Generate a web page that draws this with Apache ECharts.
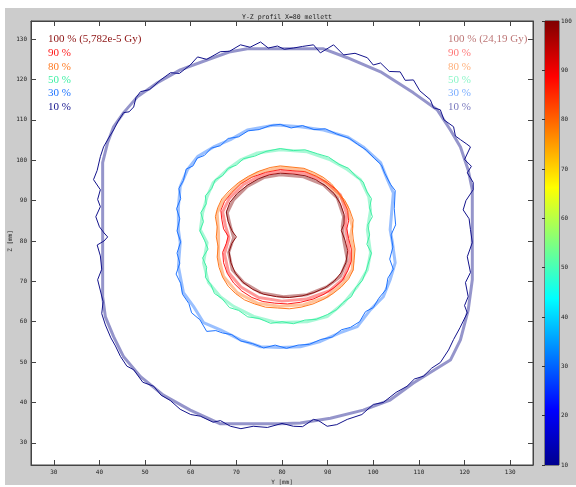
<!DOCTYPE html>
<html>
<head>
<meta charset="utf-8">
<script src="https://cdn.jsdelivr.net/npm/echarts@6/dist/echarts.min.js"></script>
<style>
  html, body { margin: 0; padding: 0; background: #fff; }
  #chart { width: 576px; height: 487px; }
</style>
</head>
<body>
<div id="chart"></div>
<script>
// isodose contours, [Y, Z] in mm
// "a" = the smooth faded trace, "b" = the thin jagged trace
const dose10a = [[72.4,127.6],[79.6,127.6],[89.1,127.6],[94.3,125.4],[101.6,121.9],[108.8,116.7],[114.0,112.5],[116.9,107.5],[119.1,103.3],[120.8,97.6],[121.7,92.7],[121.7,87.7],[121.7,77.8],[121.7,70.4],[120.8,62.9],[119.1,55.5],[116.9,50.5],[112.3,47.3],[108.8,44.8],[103.7,40.6],[97.8,38.1],[90.6,36.1],[84.0,34.9],[79.6,34.7],[66.5,34.7],[59.9,38.1],[54.0,41.8],[49.0,46.4],[45.3,51.3],[43.1,56.3],[41.3,61.2],[40.7,66.2],[40.7,74.6],[40.7,82.8],[40.7,99.4],[41.8,104.4],[43.1,108.3],[45.3,111.8],[48.3,115.7],[52.7,119.2],[57.7,122.4],[63.7,124.9],[68.7,126.9],[72.4,127.6]];
const dose10b = [[82.5,127.8],[84.5,128.2],[86.9,128.6],[88.4,126.6],[91.3,128.6],[93.5,126.1],[96.0,126.5],[98.7,125.4],[100.0,123.6],[101.6,124.1],[103.5,122.0],[105.9,121.9],[107.0,119.8],[108.8,119.9],[110.2,117.2],[112.5,115.0],[113.2,113.0],[114.7,112.5],[115.5,110.0],[117.6,108.3],[118.0,106.0],[119.1,105.1],[120.5,104.0],[121.3,103.3],[120.0,100.2],[121.5,98.5],[120.6,96.9],[121.9,94.5],[121.9,92.7],[120.3,90.0],[119.7,87.7],[121.0,85.5],[121.3,82.8],[121.7,79.6],[120.6,76.1],[121.3,72.2],[120.2,69.7],[120.8,66.2],[120.0,64.0],[120.6,62.2],[119.0,58.5],[117.6,55.6],[116.5,53.0],[114.7,49.9],[112.8,48.5],[111.0,46.5],[109.0,45.8],[107.4,44.0],[105.0,42.5],[102.2,40.0],[100.0,39.5],[97.5,37.0],[94.3,35.8],[92.0,34.5],[89.9,34.1],[88.0,35.5],[86.9,35.8],[84.5,34.0],[82.5,34.1],[80.0,34.8],[76.8,33.8],[73.7,34.1],[71.0,33.5],[68.7,34.1],[66.5,35.5],[64.9,35.1],[62.1,36.6],[60.0,37.0],[57.7,38.3],[55.5,40.5],[53.5,41.8],[51.9,44.0],[49.5,45.0],[47.5,48.1],[46.0,49.0],[44.6,51.4],[43.5,54.0],[42.5,56.0],[41.3,59.2],[40.5,62.0],[40.8,65.0],[39.6,70.4],[40.5,73.0],[40.2,76.3],[39.5,79.0],[41.0,80.0],[41.8,81.0],[41.0,82.0],[40.0,83.5],[39.2,86.0],[40.2,88.5],[39.6,90.3],[40.2,92.7],[38.7,95.2],[39.5,97.5],[40.2,100.9],[40.9,103.3],[42.0,105.5],[43.1,107.5],[44.0,109.5],[45.3,111.8],[46.5,112.0],[47.5,113.2],[48.0,115.5],[49.0,117.0],[51.0,117.5],[53.4,119.9],[55.6,121.7],[57.5,121.5],[59.9,123.6],[61.5,125.6],[63.5,125.0],[66.5,126.9],[68.5,127.0],[70.9,128.6],[73.0,128.0],[75.3,129.3],[77.0,127.8],[79.0,128.3],[80.5,127.5],[82.5,127.8]];
const dose10islands = [[38.1,89.7],[39.2,87.0],[38.1,66.2],[43.1,62.2],[42.0,54.3],[53.1,46.2],[54.0,40.2],[65.0,36.2],[70.2,32.5],[83.3,32.5],[89.1,32.8],[103.1,38.1],[119.1,77.8],[119.7,67.5],[97.2,128.1],[100.1,121.9],[110.4,115.0],[116.9,105.8],[119.5,100.9],[120.2,97.7],[65.0,126.9],[74.8,124.9],[81.2,129.8]];

const dose30a = [[79.6,108.7],[84.0,108.3],[89.1,107.5],[94.3,105.8],[97.8,103.3],[101.6,99.4],[103.1,95.2],[104.4,91.9],[103.7,82.8],[104.2,79.6],[104.8,74.6],[103.7,70.4],[102.2,66.2],[99.4,63.0],[96.5,58.8],[92.8,57.3],[88.4,55.1],[84.0,53.8],[79.6,53.6],[75.3,53.8],[70.9,55.5],[66.5,58.0],[62.8,59.8],[60.6,63.8],[58.4,67.2],[57.3,73.7],[57.7,79.6],[57.3,82.8],[57.3,88.5],[57.7,93.5],[59.3,97.7],[61.5,100.9],[65.0,103.3],[68.7,105.1],[72.4,107.5],[78.2,108.7],[79.6,108.7]];
const dose30b = [[79.6,108.9],[82.0,108.0],[84.5,108.6],[87.0,107.6],[89.5,107.8],[92.0,106.5],[94.8,105.4],[96.5,104.0],[98.5,102.5],[100.2,100.5],[101.8,98.8],[102.5,96.8],[103.8,94.0],[104.8,92.5],[104.6,88.0],[104.9,84.0],[103.9,81.5],[104.3,78.5],[103.6,75.5],[104.4,73.0],[103.2,70.8],[102.8,68.0],[101.2,65.8],[100.0,63.5],[98.3,62.5],[97.0,60.0],[95.0,58.6],[93.0,58.0],[91.0,56.2],[88.5,55.6],[86.0,54.4],[83.5,54.2],[81.0,53.4],[78.5,54.2],[76.0,53.5],[73.5,54.6],[71.0,55.2],[69.0,56.8],[67.0,57.2],[65.5,57.8],[63.5,57.6],[62.0,60.5],[60.2,62.2],[59.6,64.5],[58.2,66.8],[57.8,69.5],[56.8,71.8],[57.6,74.5],[57.0,77.0],[57.8,79.8],[57.0,82.5],[57.6,85.5],[56.9,88.0],[57.8,90.5],[57.4,93.0],[58.4,95.0],[59.0,97.8],[60.5,98.6],[61.4,100.5],[63.0,101.2],[64.5,103.0],[66.5,103.6],[68.2,105.4],[70.5,105.8],[72.6,107.3],[75.0,107.6],[77.4,108.6],[79.6,108.9]];

const dose50a = [[79.6,102.6],[85.5,102.1],[90.6,100.1],[94.3,97.7],[97.2,95.2],[99.0,91.0],[99.4,87.7],[98.7,82.8],[99.4,77.1],[98.7,72.9],[96.5,68.7],[93.5,64.6],[89.9,61.3],[85.5,60.0],[79.6,59.8],[78.2,60.0],[73.8,61.3],[69.4,63.8],[66.5,66.2],[63.9,69.7],[62.8,74.6],[63.6,79.6],[62.1,82.8],[62.6,87.0],[63.6,91.0],[64.9,94.4],[68.0,97.7],[70.9,100.1],[74.6,101.8],[79.6,102.6]];
const dose50b = [[79.6,102.9],[82.5,102.4],[85.0,102.6],[87.8,101.6],[90.2,100.8],[92.5,99.0],[94.6,98.0],[96.2,96.0],[97.8,94.6],[98.6,92.2],[99.6,90.5],[99.2,88.2],[99.8,86.0],[98.8,84.0],[99.2,81.5],[98.6,79.2],[99.6,77.0],[99.0,74.8],[98.4,72.5],[97.6,70.2],[96.2,68.5],[95.2,66.2],[93.4,64.8],[92.0,63.0],[90.0,61.8],[87.5,60.6],[85.0,60.4],[82.5,59.5],[80.0,60.0],[77.5,59.6],[75.0,60.8],[72.5,61.2],[70.5,62.8],[68.5,63.5],[66.8,65.8],[65.2,67.0],[64.4,69.2],[63.2,71.0],[63.5,73.5],[62.6,75.8],[63.8,78.0],[63.0,80.2],[62.0,82.5],[62.8,84.8],[62.2,87.0],[63.4,89.2],[63.2,91.2],[64.6,93.0],[65.4,95.2],[67.0,96.2],[68.2,98.0],[70.0,98.8],[71.6,100.4],[74.0,101.0],[76.5,102.2],[79.6,102.9]];

const dose80a = [[79.6,98.2],[84.7,97.6],[88.4,95.7],[90.6,93.5],[92.8,91.0],[94.3,88.5],[95.4,83.6],[95.0,81.1],[95.6,77.8],[95.4,72.9],[93.5,69.7],[89.9,66.2],[84.7,64.2],[79.6,63.8],[74.6,64.6],[70.2,67.2],[67.2,71.2],[66.1,76.1],[66.1,82.0],[65.8,87.0],[67.2,90.2],[70.9,94.4],[74.6,96.9],[79.6,98.2]];
const dose80b = [[79.6,98.6],[82.2,98.3],[84.8,98.0],[87.0,97.0],[89.0,95.8],[90.8,94.2],[92.4,92.0],[93.8,90.0],[94.8,87.8],[95.6,85.2],[95.4,83.0],[95.6,80.5],[96.0,78.0],[95.8,75.2],[95.6,72.8],[94.6,70.6],[93.0,68.6],[91.2,67.0],[89.2,65.6],[86.8,64.4],[84.2,63.6],[81.6,63.2],[79.0,63.4],[76.4,63.6],[74.0,64.4],[71.8,65.4],[69.8,67.0],[68.2,68.8],[67.0,71.0],[66.2,73.5],[65.8,76.0],[66.0,78.6],[65.6,81.0],[65.8,83.5],[65.4,86.0],[65.9,88.2],[66.8,90.4],[68.4,92.4],[70.4,94.4],[72.6,96.0],[75.0,97.3],[77.4,98.2],[79.6,98.6]];

const dose90a = [[79.6,97.3],[84.8,96.8],[89.6,94.6],[92.8,91.4],[94.2,86.6],[93.9,83.6],[94.3,80.5],[95.0,75.4],[93.4,70.6],[90.3,67.6],[85.3,65.6],[80.0,65.1],[74.9,66.0],[71.0,68.6],[68.3,72.2],[67.4,76.8],[68.4,80.8],[67.6,83.8],[67.0,87.2],[68.5,90.6],[71.6,94.0],[75.5,96.3],[79.6,97.3]];
const dose90b = [[79.6,97.7],[82.4,97.4],[85.0,97.2],[87.6,96.0],[90.0,94.4],[92.0,92.6],[93.4,90.2],[94.4,87.6],[94.6,85.0],[94.2,83.0],[94.6,80.6],[95.2,78.0],[95.2,75.0],[94.4,72.6],[93.2,70.2],[91.4,68.4],[89.2,66.8],[86.8,65.6],[84.0,64.8],[81.2,64.4],[78.4,64.6],[75.8,65.0],[73.4,66.0],[71.2,67.6],[69.4,69.6],[68.0,72.0],[67.2,74.6],[67.0,77.2],[67.8,79.4],[68.2,81.2],[67.2,83.0],[66.8,85.4],[66.6,87.6],[67.4,89.8],[69.0,92.0],[71.0,94.2],[73.4,95.8],[76.4,97.0],[79.6,97.7]];

const dose100a = [[79.6,96.4],[84.7,95.9],[89.1,93.9],[92.1,90.7],[93.5,86.0],[93.2,83.6],[93.5,80.3],[94.3,75.4],[92.8,71.2],[89.9,68.7],[85.5,66.7],[80.3,66.2],[75.3,67.2],[71.6,69.7],[69.1,72.9],[68.3,77.1],[69.4,80.8],[68.7,83.6],[68.0,87.0],[69.4,90.2],[72.4,93.5],[76.0,95.7],[79.6,96.4]];
const dose100b = [[79.6,96.8],[82.4,96.6],[85.0,96.2],[87.4,95.2],[89.6,93.6],[91.4,91.8],[92.8,89.2],[93.6,86.6],[93.6,84.2],[93.0,82.6],[93.8,80.2],[94.4,77.6],[94.0,74.6],[93.0,72.2],[91.4,70.0],[89.4,68.4],[87.0,67.2],[84.4,66.4],[81.6,66.0],[78.8,66.2],[76.0,66.8],[73.6,68.0],[71.4,69.8],[69.8,72.0],[68.8,74.6],[68.4,77.4],[69.0,79.4],[70.0,81.0],[69.0,82.6],[68.2,84.8],[67.8,87.2],[68.6,89.6],[70.2,91.8],[72.4,93.8],[74.8,95.4],[77.2,96.4],[79.6,96.8]];

const levelNames = ['100 %', '90 %', '80 %', '50 %', '30 %', '10 %'];
const levelColors = ['#8c1111', '#ff1a1a', '#ff7a22', '#3ff0a4', '#1f74ff', '#13138c'];
const levelTraces = [[dose100a, dose100b], [dose90a, dose90b], [dose80a, dose80b], [dose50a, dose50b], [dose30a, dose30b], [dose10a, dose10b]];
const legendLeft = ['100 % (5,782e-5 Gy)', '90 %', '80 %', '50 %', '30 %', '10 %'];
const legendRight = ['100 % (24,19 Gy)', '90 %', '80 %', '50 %', '30 %', '10 %'];

const colorbarSpan = [[10, 100]];
const jetStops = [
  { offset: 0, color: '#00008f' },
  { offset: 0.125, color: '#0000ff' },
  { offset: 0.375, color: '#00ffff' },
  { offset: 0.625, color: '#ffff00' },
  { offset: 0.875, color: '#ff0000' },
  { offset: 1, color: '#800000' },
];

const MONO = 'DejaVu Sans Mono';
const tickLabel = { fontFamily: MONO, fontSize: 6, color: '#222' };
const axisLine = { lineStyle: { color: '#444', width: 1 } };
const inTick = { show: true, inside: true, length: 5, lineStyle: { color: '#444' } };
const hideEnds = (v) => (Math.abs(v % 10) < 1e-6 ? String(v) : '');

const series = [];
levelTraces.forEach((pair, i) => {
  series.push({
    type: 'line', xAxisIndex: 0, yAxisIndex: 0, data: pair[0],
    showSymbol: false, symbol: 'none', silent: true,
    lineStyle: { color: levelColors[i], width: 3, opacity: 0.45 },
  });
  series.push({
    type: 'line', xAxisIndex: 0, yAxisIndex: 0, data: pair[1],
    showSymbol: false, symbol: 'none', silent: true,
    lineStyle: { color: levelColors[i], width: 1 },
  });
});
series.push({
  type: 'scatter', xAxisIndex: 0, yAxisIndex: 0, data: dose10islands,
  symbol: 'emptyCircle', symbolSize: 2, silent: true,
  itemStyle: { color: '#fff', borderColor: '#13138c', borderWidth: 1 },
});
series.push({
  type: 'custom', xAxisIndex: 2, yAxisIndex: 2, data: colorbarSpan, silent: true,
  renderItem(params, api) {
    const lo = api.coord([0, api.value(0)]);
    const hi = api.coord([1, api.value(1)]);
    return {
      type: 'rect',
      shape: { x: lo[0], y: hi[1], width: hi[0] - lo[0], height: lo[1] - hi[1] },
      style: { fill: new echarts.graphic.LinearGradient(0, 1, 0, 0, jetStops) },
    };
  },
});

const graphics = [
  { type: 'rect', z: -10, shape: { x: 5, y: 8, width: 571, height: 477 }, style: { fill: '#cccccc' } },
  // Z axis title, rotated like MATLAB's ylabel
  { type: 'text', x: 10, y: 241, rotation: Math.PI / 2,
    style: { text: 'Z [mm]', fill: '#222', font: '6px "DejaVu Sans Mono"', align: 'center', verticalAlign: 'middle' } },
];
const rowY = [39, 53, 67, 80, 93, 107];
levelNames.forEach((_, i) => {
  graphics.push({
    type: 'text', x: 48, y: rowY[i],
    style: { text: legendLeft[i], fill: levelColors[i], font: '11px "Liberation Serif"', verticalAlign: 'middle' },
  });
  graphics.push({
    type: 'text', x: 448, y: rowY[i],
    style: { text: legendRight[i], fill: levelColors[i], opacity: 0.6, font: '11px "Liberation Serif"', verticalAlign: 'middle' },
  });
});

const chart = echarts.init(document.getElementById('chart'), null, { renderer: 'canvas' });
chart.setOption({
  animation: false,
  backgroundColor: '#ffffff',
  title: {
    text: 'Y-Z profil X=80 mellett', left: 282, top: 9, textAlign: 'center',
    textStyle: { fontFamily: MONO, fontSize: 6.5, fontWeight: 'normal', color: '#222' },
  },
  grid: [
    { left: 31, right: 43, top: 21, bottom: 22, outerBoundsMode: 'none', containLabel: false,
      show: true, backgroundColor: '#fff', borderColor: '#444', borderWidth: 1 },
    { left: 545, width: 14, top: 21, bottom: 22, outerBoundsMode: 'none', containLabel: false,
      show: true, borderColor: '#333', borderWidth: 1 },
  ],
  xAxis: [
    { gridIndex: 0, type: 'value', min: 25, max: 135, splitNumber: 11, position: 'bottom',
      name: 'Y [mm]', nameLocation: 'middle', nameGap: 11, nameTextStyle: tickLabel,
      axisLine, axisTick: inTick, splitLine: { show: false },
      axisLabel: { ...tickLabel, margin: 4, formatter: hideEnds, showMinLabel: false, showMaxLabel: false } },
    { gridIndex: 0, type: 'value', min: 25, max: 135, splitNumber: 11, position: 'top',
      axisLine, axisTick: inTick, splitLine: { show: false }, axisLabel: { show: false } },
    { gridIndex: 1, type: 'value', min: 0, max: 1, show: false },
  ],
  yAxis: [
    { gridIndex: 0, type: 'value', min: 24.5, max: 134.5, splitNumber: 11, position: 'left',
      axisLine, axisTick: inTick, splitLine: { show: false },
      axisLabel: { ...tickLabel, margin: 4, formatter: hideEnds, showMinLabel: false, showMaxLabel: false } },
    { gridIndex: 0, type: 'value', min: 24.5, max: 134.5, splitNumber: 11, position: 'right',
      axisLine, axisTick: inTick, splitLine: { show: false }, axisLabel: { show: false } },
    { gridIndex: 1, type: 'value', min: 10, max: 100, interval: 10, position: 'right',
      axisLine: { show: false }, splitLine: { show: false },
      axisTick: { show: true, inside: true, length: 3, lineStyle: { color: '#333' } },
      axisLabel: { ...tickLabel, margin: 2 } },
  ],
  graphic: graphics,
  series,
});
</script>
</body>
</html>
